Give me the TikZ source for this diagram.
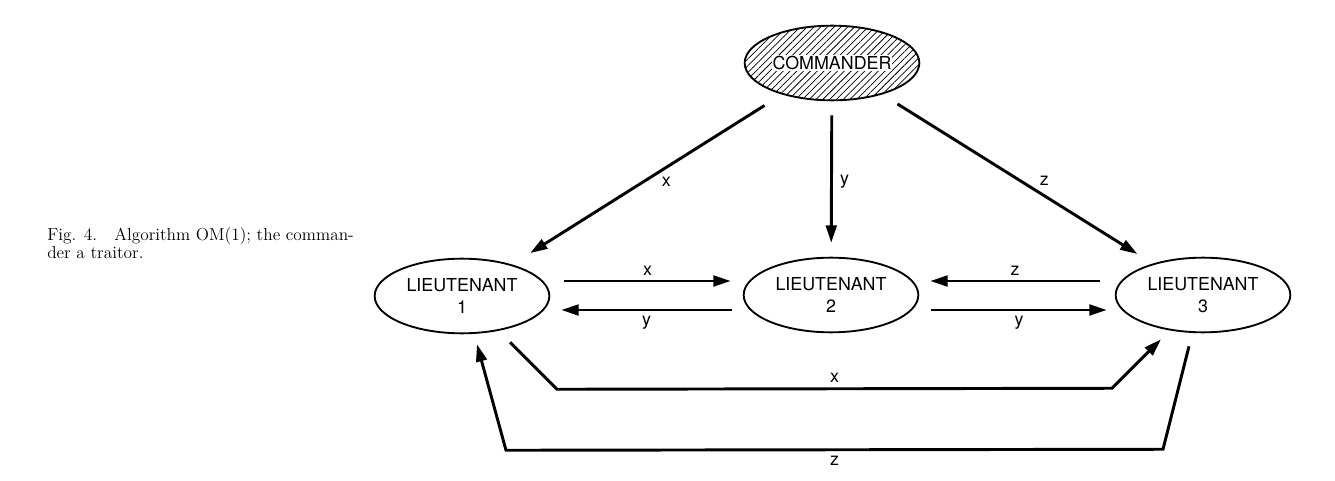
\documentclass[tikz,border=0pt]{standalone}
\usepackage{fontspec}
\newfontfamily\labelfont{TeX Gyre Heros}
\usetikzlibrary{arrows.meta,patterns.meta,shapes.geometric}
\newcommand{\lt}[1]{LIEUTENANT\\#1}

\begin{document}
\begin{tikzpicture}[x=0.75pt,y=-0.75pt,
    general/.style={ellipse,draw,line width=1.4pt,minimum width=131pt,minimum height=56pt,inner sep=0pt,
      align=center,font=\labelfont\fontsize{13.4}{16.5}\selectfont},
    msg/.style={line width=2.2pt,-{Triangle[length=13pt,width=8pt]}},
    val/.style={font=\labelfont\fontsize{13.4}{15}\selectfont}]
    \useasboundingbox (0,0) rectangle (1335,481);
    \node[general,pattern={Lines[angle=45,distance=3.6pt,line width=0.55pt]}] (cmd) at (832,63) {};
    \node[fill=white,inner sep=0.6pt,font=\labelfont\fontsize{13.4}{15}\selectfont] (cmdname) at (cmd) {COMMANDER};
    \node[general] (l1) at (462,296) {\lt{1}};
    \node[general] (l2) at (831,295) {\lt{2}};
    \node[general] (l3) at (1203,295) {\lt{3}};
    \draw[msg,shorten <=16pt,shorten >=16pt] (cmd) -- node[val,pos=.43,below=3pt]{x} (l1);
    \draw[msg,shorten <=11pt,shorten >=10.5pt] (cmd) -- node[val,pos=.52,right=2pt]{y} (l2);
    \draw[msg,shorten <=14pt,shorten >=13.5pt] (cmd) -- node[val,pos=.6,above=3pt]{z} (l3);
    \draw[msg] ([shift={(14,-15)}]l1.east) -- node[val,above]{x} ([shift={(-12,-14)}]l2.west);
    \draw[msg] ([shift={(-11,15)}]l2.west) -- node[val,below]{y} ([shift={(11,14)}]l1.east);
    \draw[msg] ([shift={(-15,-14)}]l3.west) -- node[val,above]{z} ([shift={(11,-14)}]l2.east);
    \draw[msg] ([shift={(12,15)}]l2.east) -- node[val,below]{y} ([shift={(-8,15)}]l3.west);
    \draw[msg] ([shift={(48,8)}]l1.south) -- ++(47,47) -- node[val,above]{x} ([shift={(-91,55)}]l3.south) -- ([shift={(-42,6)}]l3.south);
    \draw[msg] ([shift={(-14,13)}]l3.south) -- ([shift={(-40,116)}]l3.south) -- node[val,below]{z} ([shift={(44,116)}]l1.south) -- ([shift={(15,10)}]l1.south);
    \node[anchor=base west,align=left,inner sep=0pt,font=\fontsize{13}{12}\selectfont] (caption) at (47,258)
      {Fig. 4.\quad Algorithm OM(1); the comman-\\der a traitor.};
\end{tikzpicture}
\end{document}
